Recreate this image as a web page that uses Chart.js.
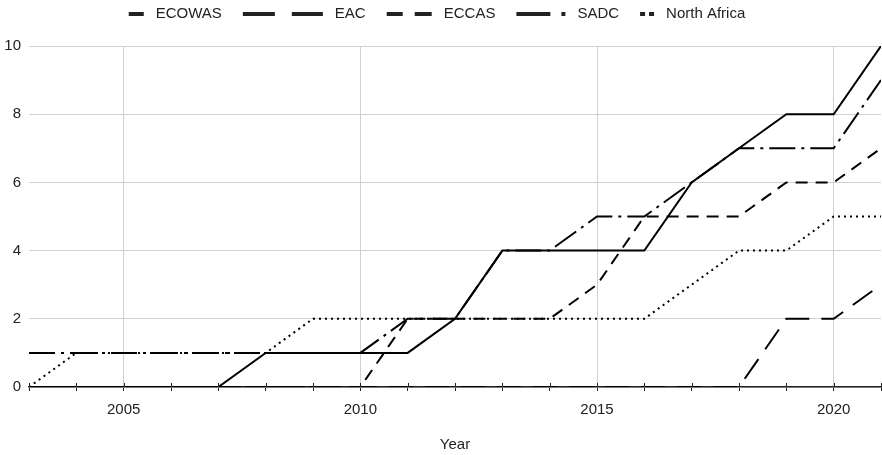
<!DOCTYPE html>
<html>
<head>
<meta charset="utf-8">
<script src="https://cdn.jsdelivr.net/npm/chart.js@4/dist/chart.umd.min.js"></script>
<style>
  html, body { margin: 0; padding: 0; background: #fff; }
  #wrap { width: 882px; height: 455px; }
</style>
</head>
<body>
<div id="wrap"><canvas id="chart"></canvas></div>
<script>
// Chart data
const years = [2003, 2004, 2005, 2006, 2007, 2008, 2009, 2010, 2011, 2012, 2013, 2014, 2015, 2016, 2017, 2018, 2019, 2020, 2021];
const ecowas = [0, 0, 0, 0, 0, 1, 1, 1, 1, 2, 4, 4, 4, 4, 6, 7, 8, 8, 10];
const eac = [0, 0, 0, 0, 0, 0, 0, 0, 0, 0, 0, 0, 0, 0, 0, 0, 2, 2, 3];
const eccas = [0, 0, 0, 0, 0, 0, 0, 0, 2, 2, 2, 2, 3, 5, 5, 5, 6, 6, 7];
const sadc = [1, 1, 1, 1, 1, 1, 1, 1, 2, 2, 4, 4, 5, 5, 6, 7, 7, 7, 9];
const northAfrica = [0, 1, 1, 1, 1, 1, 2, 2, 2, 2, 2, 2, 2, 2, 3, 4, 4, 5, 5];
const seriesNames = ['ECOWAS', 'EAC', 'ECCAS', 'SADC', 'North Africa'];
const yTicks = [0, 2, 4, 6, 8, 10];

// Styles
const FONT = '"Liberation Sans", Arial, sans-serif';
const dashes = [[], [24, 12], [12, 8], [26, 6, 3, 6], [2, 4]];
const legendGlyphs = [[15], [32, 17, 31], [16, 12, 17], [34, 11, 4], [5, 4, 5]];

const toPoints = vals => years.map((yr, i) => ({ x: yr, y: vals[i] }));

// Legend drawn with pattern glyphs of different widths
const glyphLegend = {
  id: 'glyphLegend',
  afterDraw(chart) {
    const ctx = chart.ctx;
    ctx.save();
    ctx.font = '15px ' + FONT;
    ctx.fillStyle = '#222';
    ctx.textBaseline = 'middle';
    const items = chart.data.datasets.map((ds, i) => {
      const glyph = legendGlyphs[i];
      return { label: ds.label, glyph, gw: glyph.reduce((a, b) => a + b, 0), tw: ctx.measureText(ds.label).width };
    });
    const total = items.reduce((a, it) => a + it.gw + 12 + it.tw, 0) + 21 * (items.length - 1);
    let x = (chart.width - total) / 2 - 4;
    const y = 14;
    items.forEach(it => {
      let gx = x;
      it.glyph.forEach((len, k) => {
        if (k % 2 === 0) ctx.fillRect(gx, y - 2, len, 4);
        gx += len;
      });
      ctx.fillText(it.label, x + it.gw + 12, y);
      x += it.gw + 12 + it.tw + 21;
    });
    ctx.restore();
  }
};

// Small tick marks crossing the baseline (above part)
const tickCross = {
  id: 'tickCross',
  afterDatasetsDraw(chart) {
    const { ctx, chartArea, scales } = chart;
    ctx.save();
    ctx.strokeStyle = '#222';
    ctx.lineWidth = 1;
    years.forEach(yr => {
      const px = Math.round(scales.x.getPixelForValue(yr)) + 0.5;
      ctx.beginPath();
      ctx.moveTo(px, chartArea.bottom - 4);
      ctx.lineTo(px, chartArea.bottom);
      ctx.stroke();
    });
    ctx.restore();
  }
};

const allSeries = [ecowas, eac, eccas, sadc, northAfrica];

new Chart(document.getElementById('chart'), {
  type: 'line',
  data: {
    datasets: allSeries.map((vals, i) => ({
      label: seriesNames[i],
      data: toPoints(vals),
      borderColor: '#000',
      backgroundColor: '#000',
      borderWidth: 2,
      borderDash: dashes[i],
      pointRadius: 0,
      tension: 0,
      fill: false
    }))
  },
  options: {
    responsive: true,
    maintainAspectRatio: false,
    animation: false,
    layout: { padding: { top: 46, left: 4, right: 1, bottom: 1 } },
    plugins: {
      legend: { display: false },
      tooltip: { enabled: false }
    },
    scales: {
      x: {
        type: 'linear',
        min: years[0],
        max: years[years.length - 1],
        afterFit: axis => {
          axis.height = 67;
          axis.paddingLeft = 0;
          axis.paddingRight = 0;
        },
        border: { display: true, color: '#222', width: 1.5 },
        grid: {
          color: ctx => (ctx.tick && ctx.tick.value % 5 === 0) ? '#d0d0d0' : 'rgba(0,0,0,0)',
          tickColor: '#222',
          tickLength: 4,
          drawTicks: true
        },
        ticks: {
          stepSize: 1,
          autoSkip: false,
          maxRotation: 0,
          padding: 10,
          color: '#222',
          font: { size: 15, family: FONT },
          callback: v => (v % 5 === 0 ? String(v) : '')
        },
        title: {
          display: true,
          text: 'Year',
          color: '#222',
          font: { size: 15, family: FONT },
          padding: { top: 14, bottom: 0 }
        }
      },
      y: {
        min: 0,
        max: 10,
        afterFit: axis => {
          axis.width = 25;
          axis.paddingTop = 0;
          axis.paddingBottom = 0;
        },
        border: { display: false },
        grid: { color: '#d0d0d0', drawTicks: false },
        afterBuildTicks: axis => { axis.ticks = yTicks.map(v => ({ value: v })); },
        ticks: {
          padding: 8,
          color: '#222',
          font: { size: 15, family: FONT }
        }
      }
    }
  },
  plugins: [glyphLegend, tickCross]
});
</script>
</body>
</html>
